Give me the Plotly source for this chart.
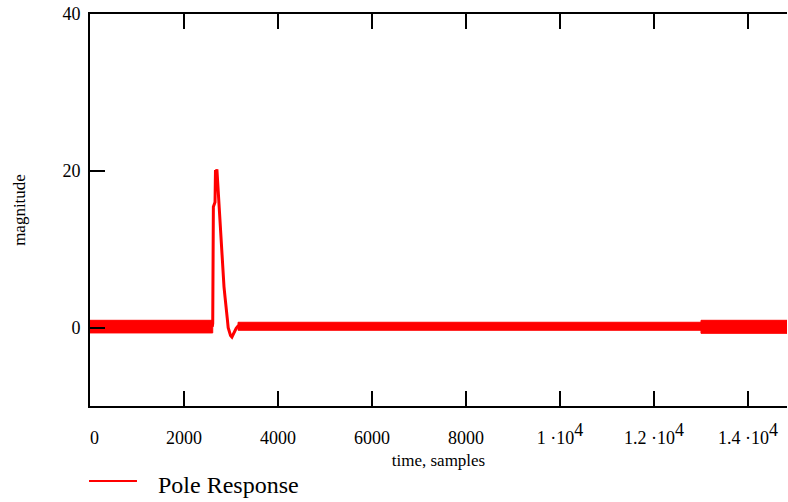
import plotly.graph_objects as go

# Envelope of the steady oscillation band (sample ranges and upper/lower levels)
band_start = [0, 3150, 13000]
band_end = [2611, 13000, 14830]
band_hi = [0.93, 0.68, 0.93]
band_lo = [-0.68, -0.34, -0.73]

# Transient pulse of the pole response
pulse_t = [2600, 2611, 2625, 2650, 2660, 2670, 2685, 2700, 2720, 2745, 2766, 2790,
           2809, 2830, 2851, 2875, 2900, 2920, 2940, 2965, 2990, 3020, 3045, 3070,
           3110, 3150, 3200]
pulse_v = [0.1, 0.5, 15.4, 15.9, 16.0, 20.1, 19.6, 20.2, 18.0, 16.5, 14.0, 11.5,
           9.0, 7.0, 5.2, 3.8, 2.7, 1.2, 0.0, -0.7, -1.0, -1.2, -0.9, -0.5,
           -0.1, 0.2, 0.3]

# Axis ticks
SUP = "<sup><span style='font-size:18px'>4</span></sup>"
x_tickvals = [0, 2000, 4000, 6000, 8000, 10000, 12000, 14000]
x_ticktext = ["  0", "2000", "4000", "6000", "8000",
              "1 \u00b710" + SUP, "1.2 \u00b710" + SUP, "1.4 \u00b710" + SUP]
y_tickvals = [0, 20, 40]

RED = "#ff0000"
FONT = "Liberation Serif, Times New Roman, serif"
SERIES_NAME = "Pole Response"

# Build closed outlines of the band segments, separated by gaps
bx, by = [], []
for x0, x1, hi, lo in zip(band_start, band_end, band_hi, band_lo):
    bx += [x0, x1, x1, x0, x0, None]
    by += [hi, hi, lo, lo, hi, None]

fig = go.Figure()
fig.add_trace(go.Scatter(
    x=bx, y=by, mode="lines", fill="toself", fillcolor=RED,
    line=dict(color=RED, width=1), showlegend=False, hoverinfo="skip",
))
fig.add_trace(go.Scatter(
    x=pulse_t, y=pulse_v, mode="lines", name=SERIES_NAME,
    line=dict(color=RED, width=3), showlegend=False,
))

# Legend key below the plot: a short red line and the series name
fig.add_shape(type="line", xref="paper", yref="paper",
              x0=-0.0014, x1=0.0674, y0=-0.1913, y1=-0.1913,
              line=dict(color=RED, width=2))
fig.add_annotation(text=SERIES_NAME, xref="paper", yref="paper",
                   x=0.0947, y=-0.2015, xanchor="left", yanchor="middle",
                   showarrow=False, font=dict(family=FONT, size=24, color="black"))

fig.update_layout(
    width=788, height=502,
    margin=dict(l=90, r=1, t=14, b=96, autoexpand=False),
    paper_bgcolor="white", plot_bgcolor="white",
    font=dict(family=FONT, color="black", size=18),
    showlegend=False,
    xaxis=dict(
        range=[0, 14830], tickmode="array", tickvals=x_tickvals, ticktext=x_ticktext,
        ticks="inside", ticklen=15, tickwidth=2, tickcolor="black",
        showline=True, linewidth=2, linecolor="black", mirror="ticks",
        showgrid=False, zeroline=False, ticklabelstandoff=14,
        tickfont=dict(family=FONT, size=18),
        title=dict(text="time, samples", font=dict(family=FONT, size=17), standoff=8),
    ),
    yaxis=dict(
        range=[-10, 40], tickmode="array", tickvals=y_tickvals,
        ticks="inside", ticklen=15, tickwidth=2, tickcolor="black",
        showline=True, linewidth=2, linecolor="black", mirror=False,
        showgrid=False, zeroline=False, ticklabelstandoff=4,
        tickfont=dict(family=FONT, size=18),
        title=dict(text="magnitude", font=dict(family=FONT, size=17), standoff=32),
    ),
)

fig.write_html("out.html")
